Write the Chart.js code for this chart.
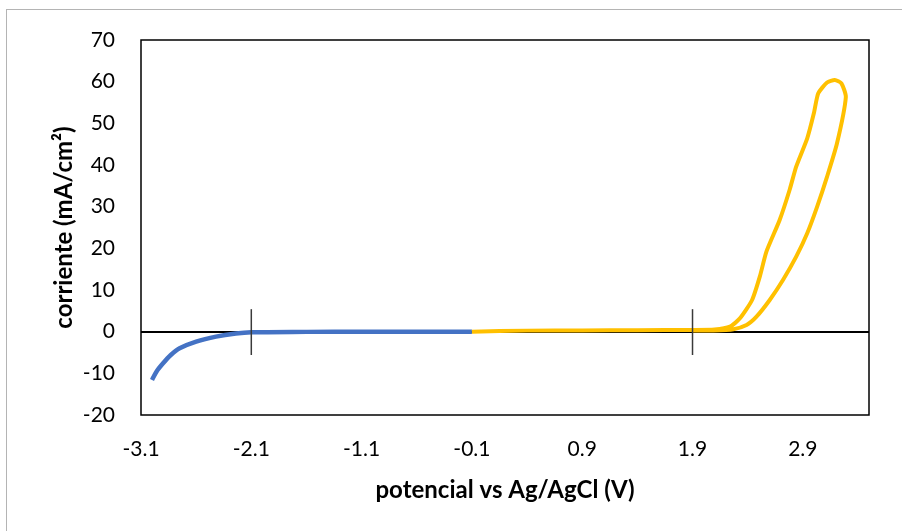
<!DOCTYPE html>
<html lang="es">
<head>
  <meta charset="UTF-8" />
  <title>Voltametría - corriente vs potencial</title>
  <script src="https://cdn.jsdelivr.net/npm/chart.js"></script>
  <style>
    body { margin: 0; background: #fff; font-family: 'Lato', sans-serif; }
    #wrap { position: relative; width: 902px; height: 531px; overflow: hidden; }
    #frame { position: absolute; left: 6px; top: 9px; right: -10px; bottom: -10px; border: 1px solid #b4b4b4; pointer-events: none; }
  </style>
</head>
<body>
  <div id="wrap">
    <canvas id="cvChart"></canvas>
    <div id="frame"></div>
  </div>

  <script>
    // Rama catódica (azul)
    const blueV = [-3.00, -2.96, -2.90, -2.83, -2.75, -2.60, -2.42, -2.24, -2.10, -1.6, -1.1, -0.6, -0.1];
    const blueI = [-11.6, -9.6, -7.6, -5.6, -4.0, -2.4, -1.2, -0.45, -0.15, -0.05, 0, 0, 0];

    // Rama anódica (amarilla), ida y vuelta
    const yellowV = [-0.1, 0.4, 0.9, 1.4, 1.9, 2.1, 2.24, 2.33, 2.44, 2.51, 2.57, 2.69, 2.78, 2.84, 2.94, 3.00, 3.04, 3.12, 3.19, 3.25, 3.29,
                     3.21, 3.12, 3.03, 2.94, 2.84, 2.72, 2.60, 2.48, 2.39, 2.27, 2.09, 1.9];
    const yellowI = [0.0, 0.25, 0.3, 0.35, 0.4, 0.5, 1.2, 3.2, 7.6, 13.2, 19.2, 26.8, 34.0, 39.6, 46.4, 52.4, 57.2, 59.8, 60.4, 59.6, 56.3,
                     45.2, 37.2, 30.0, 23.6, 18.0, 12.4, 7.6, 3.6, 1.6, 0.6, 0.3, 0.3];

    // Marcas verticales
    const markerV = [-2.1, 1.9];
    const markerLow = -5.6;
    const markerHigh = 5.4;

    // Ejes
    const xTicks = [-3.1, -2.1, -1.1, -0.1, 0.9, 1.9, 2.9];
    const xMin = -3.1, xMax = 3.5;
    const yMin = -20, yMax = 70, yStep = 10;

    const toPts = (xs, ys) => xs.map((x, i) => ({ x: x, y: ys[i] }));

    const markerSets = markerV.map(v => ({
      data: [{ x: v, y: markerLow }, { x: v, y: markerHigh }],
      borderColor: '#3a3a3a',
      borderWidth: 1.5,
      pointRadius: 0,
      showLine: true,
      order: 0
    }));

    const plotBorder = {
      id: 'plotBorder',
      afterDraw(chart) {
        const { ctx, chartArea: a } = chart;
        ctx.save();
        ctx.strokeStyle = '#000';
        ctx.lineWidth = 1.5;
        ctx.strokeRect(a.left, a.top, a.right - a.left, a.bottom - a.top);
        ctx.restore();
      }
    };

    const tickFont = { family: 'Lato', size: 21 };
    const titleFont = { family: 'Lato', size: 24, weight: 'bold' };

    new Chart(document.getElementById('cvChart'), {
      type: 'scatter',
      data: {
        datasets: [
          ...markerSets,
          {
            data: toPts(blueV, blueI),
            borderColor: '#4472C4',
            borderWidth: 4.5,
            pointRadius: 0,
            showLine: true,
            tension: 0.3,
            order: 2
          },
          {
            data: toPts(yellowV, yellowI),
            borderColor: '#FFC000',
            borderWidth: 4,
            pointRadius: 0,
            showLine: true,
            tension: 0.2,
            order: 1
          }
        ]
      },
      options: {
        responsive: true,
        maintainAspectRatio: false,
        animation: false,
        layout: { padding: { top: 40, right: 33, bottom: 0, left: 0 } },
        plugins: { legend: { display: false }, tooltip: { enabled: false } },
        scales: {
          x: {
            type: 'linear',
            min: xMin,
            max: xMax,
            afterBuildTicks: s => { s.ticks = xTicks.map(v => ({ value: v })); },
            afterFit: s => { s.height = 116; },
            grid: { display: false, drawTicks: false },
            border: { display: false },
            ticks: {
              color: '#000',
              font: tickFont,
              padding: 22,
              maxRotation: 0,
              autoSkip: false,
              callback: v => v.toFixed(1)
            },
            title: {
              display: true,
              text: 'potencial vs Ag/AgCl (V)',
              color: '#000',
              font: titleFont,
              padding: { top: 0, bottom: 26 }
            }
          },
          y: {
            min: yMin,
            max: yMax,
            afterFit: s => { s.width = 141; },
            grid: {
              drawTicks: false,
              color: c => (c.tick && c.tick.value === 0 ? '#000' : 'rgba(0,0,0,0)'),
              lineWidth: c => (c.tick && c.tick.value === 0 ? 2 : 0)
            },
            border: { display: false },
            ticks: { stepSize: yStep, color: '#000', font: tickFont, padding: 26 },
            title: {
              display: true,
              text: 'corriente (mA/cm²)',
              color: '#000',
              font: titleFont,
              padding: { top: 50, bottom: 0 }
            }
          }
        }
      },
      plugins: [plotBorder]
    });
  </script>
</body>
</html>
